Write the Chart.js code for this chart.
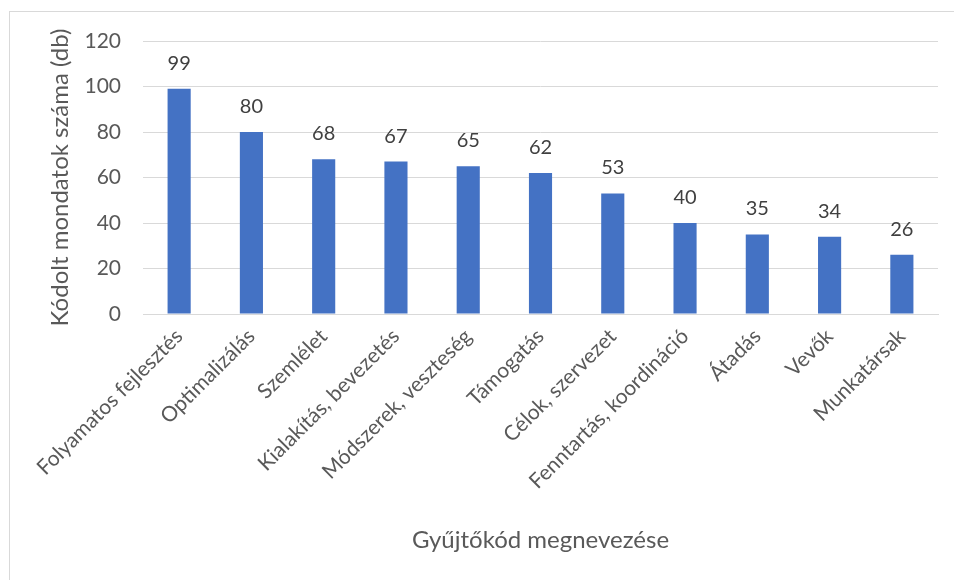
<!DOCTYPE html>
<html lang="hu">
<head>
  <meta charset="UTF-8" />
  <title>Gyűjtőkódok</title>
  <script src="https://cdn.jsdelivr.net/npm/chart.js"></script>
  <style>
    html, body { margin: 0; padding: 0; background: #fff; overflow: hidden; }
    #frame { position: absolute; left: 9px; top: 11px; width: 1000px; height: 700px; border: 1px solid #d9d9d9; }
    #wrap { position: absolute; left: 0; top: 0; width: 954px; height: 580px; }
  </style>
</head>
<body>
  <div id="frame"></div>
  <div id="wrap"><canvas id="codeChart" width="954" height="580"></canvas></div>

  <script>
    const categories = [
      'Folyamatos fejlesztés', 'Optimalizálás', 'Szemlélet', 'Kialakítás, bevezetés',
      'Módszerek, veszteség', 'Támogatás', 'Célok, szervezet', 'Fenntartás, koordináció',
      'Átadás', 'Vevők', 'Munkatársak'
    ];
    const counts = [99, 80, 68, 67, 65, 62, 53, 40, 35, 34, 26];
    const yTicks = [0, 20, 40, 60, 80, 100, 120];

    const textColor = '#595959';
    const fontFamily = 'Lato, "Open Sans", sans-serif';
    Chart.defaults.font.family = fontFamily;
    Chart.defaults.color = textColor;

    // value above each bar
    const barValues = {
      id: 'barValues',
      afterDatasetsDraw(chart) {
        const ctx = chart.ctx;
        const meta = chart.getDatasetMeta(0);
        ctx.save();
        ctx.font = '20px ' + fontFamily;
        ctx.fillStyle = '#404040';
        ctx.textAlign = 'center';
        ctx.textBaseline = 'alphabetic';
        meta.data.forEach((bar, i) => {
          ctx.fillText(String(counts[i]), bar.x, bar.y - 19);
        });
        ctx.restore();
      }
    };

    new Chart(document.getElementById('codeChart'), {
      type: 'bar',
      data: {
        labels: categories,
        datasets: [{
          data: counts,
          backgroundColor: '#4472C4',
          barPercentage: 0.32,
          categoryPercentage: 1
        }]
      },
      options: {
        responsive: false,
        animation: false,
        layout: { padding: { left: 0, top: 41, right: 16, bottom: 0 } },
        plugins: { legend: { display: false }, tooltip: { enabled: false } },
        scales: {
          x: {
            grid: { display: false },
            border: { color: '#d9d9d9', width: 1 },
            ticks: { maxRotation: 45, minRotation: 45, autoSkip: false, padding: 2, font: { size: 21 }, color: textColor },
            title: { display: true, text: 'Gyűjtőkód megnevezése', font: { size: 24 }, color: textColor, padding: { top: 4, bottom: 25 } },
            afterFit(scale) { scale.height = 266; }
          },
          y: {
            min: 0,
            max: 120,
            afterBuildTicks(scale) { scale.ticks = yTicks.map(v => ({ value: v })); },
            grid: { color: '#d9d9d9', lineWidth: 1, drawTicks: false },
            border: { display: false },
            ticks: { padding: 22, font: { size: 21 }, color: textColor },
            title: { display: true, text: 'Kódolt mondatok száma (db)', font: { size: 24 }, color: textColor, padding: { top: 46, bottom: 0 } },
            afterFit(scale) { scale.width = 143; }
          }
        }
      },
      plugins: [barValues]
    });
  </script>
</body>
</html>
